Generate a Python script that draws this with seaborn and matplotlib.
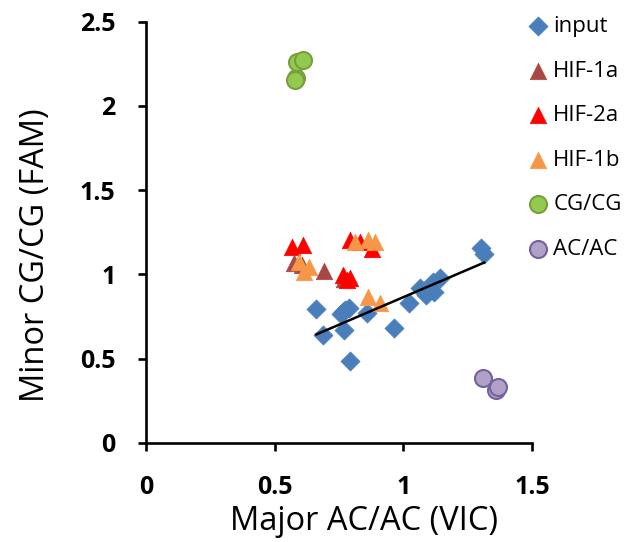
import numpy as np
import pandas as pd
import matplotlib
matplotlib.use("Agg")
import matplotlib.pyplot as plt
import seaborn as sns

# ---- data ----
input_x = [0.662, 0.689, 0.756, 0.765, 0.788, 0.771, 0.792, 0.859, 0.962, 1.021,
           1.066, 1.089, 1.115, 1.120, 1.141, 1.301, 1.314, 0.775]
input_y = [0.793, 0.641, 0.764, 0.780, 0.800, 0.671, 0.487, 0.770, 0.681, 0.829,
           0.918, 0.878, 0.957, 0.898, 0.977, 1.155, 1.122, 0.790]
hif1a_x = [0.575, 0.607, 0.691, 0.770]
hif1a_y = [1.066, 1.056, 1.023, 0.975]
hif2a_x = [0.568, 0.611, 0.765, 0.791, 0.780, 0.792, 0.833, 0.879]
hif2a_y = [1.165, 1.175, 0.997, 0.981, 0.970, 1.205, 1.195, 1.149]
hif1b_x = [0.594, 0.614, 0.633, 0.814, 0.862, 0.891, 0.863, 0.911]
hif1b_y = [1.076, 1.017, 1.046, 1.195, 1.205, 1.195, 0.868, 0.829]
cgcg_x = [0.581, 0.580, 0.588, 0.611]
cgcg_y = [2.164, 2.155, 2.263, 2.273]
acac_x = [1.311, 1.360, 1.366]
acac_y = [0.388, 0.315, 0.334]
x_ticks = [0, 0.5, 1, 1.5]
x_labels = ["0", "0.5", "1", "1.5"]
y_ticks = [0, 0.5, 1, 1.5, 2, 2.5]
y_labels = ["0", "0.5", "1", "1.5", "2", "2.5"]

FONT = "Open Sans"
plt.rcParams["font.family"] = [FONT, "DejaVu Sans"]

fig = plt.figure(figsize=(6.34, 5.42), dpi=100)
ax = fig.add_axes([0.2303, 0.1827, 0.6088, 0.7773])

series = [
    ("input", input_x, input_y, "D", "#4A7EBB", "#4A7EBB", 95),
    ("HIF-1a", hif1a_x, hif1a_y, "^", "#A94744", "#A94744", 140),
    ("HIF-2a", hif2a_x, hif2a_y, "^", "#FF0000", "#FF0000", 140),
    ("HIF-1b", hif1b_x, hif1b_y, "^", "#F79646", "#F79646", 140),
    ("CG/CG", cgcg_x, cgcg_y, "o", "#92C94F", "#77A03C", 150),
    ("AC/AC", acac_x, acac_y, "o", "#B2A1C7", "#7560A0", 150),
]
for name, xs, ys, m, fc, ec, s in series:
    df = pd.DataFrame({"x": xs, "y": ys})
    sns.scatterplot(data=df, x="x", y="y", marker=m, color=fc, edgecolor=ec,
                    linewidth=1.5 if m == "o" else 0.5, s=s, ax=ax, label=name,
                    zorder=3)

df_in = pd.DataFrame({"x": input_x, "y": input_y})
sns.regplot(data=df_in, x="x", y="y", scatter=False, ci=None, truncate=True,
            color="black", line_kws={"linewidth": 1.8, "zorder": 4}, ax=ax)

ax.set_xlim(0, 1.5)
ax.set_ylim(0, 2.5)
ax.set_xticks(x_ticks)
ax.set_xticklabels(x_labels)
ax.set_yticks(y_ticks)
ax.set_yticklabels(y_labels)
for sp in ["top", "right"]:
    ax.spines[sp].set_visible(False)
for sp in ["left", "bottom"]:
    ax.spines[sp].set_linewidth(1.9)
    ax.spines[sp].set_color("black")
ax.tick_params(axis="both", direction="out", length=6, width=1.9,
               labelsize=18)
ax.tick_params(axis="x", pad=17)
ax.tick_params(axis="y", pad=16)
for lab in ax.get_xticklabels() + ax.get_yticklabels():
    lab.set_fontweight("bold")
ax.set_xlabel("Major AC/AC (VIC)", fontsize=23.5)
ax.xaxis.set_label_coords(0.565, -0.148)
ax.set_ylabel("Minor CG/CG (FAM)", fontsize=23.5)
ax.yaxis.set_label_coords(-0.243, 0.446)

leg = ax.legend(loc="upper left", bbox_to_anchor=(531 / 634, 1 - 16 / 542),
                bbox_transform=fig.transFigure, frameon=False,
                fontsize=16, labelspacing=1.06, handletextpad=0.36,
                handlelength=0.64, borderaxespad=0, borderpad=0)

fig.savefig("out.png", dpi=100)
